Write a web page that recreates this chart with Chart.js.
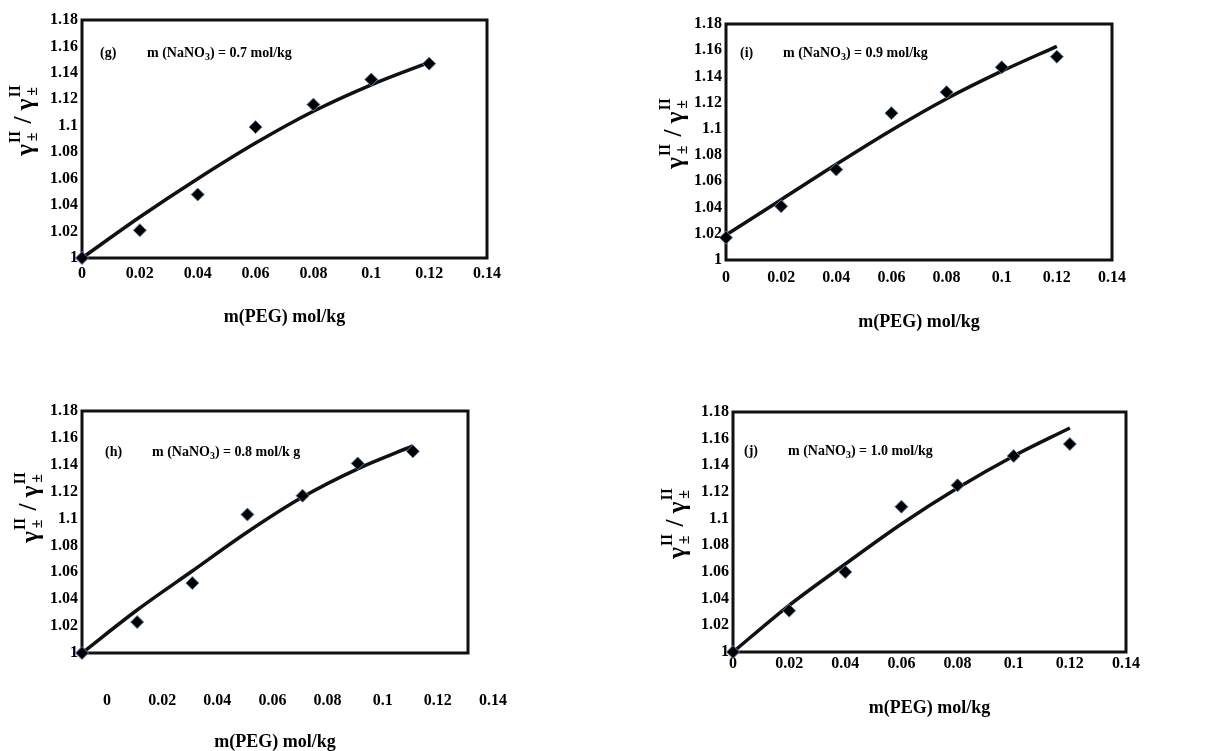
<!DOCTYPE html>
<html>
<head>
<meta charset="utf-8">
<script src="https://cdn.jsdelivr.net/npm/chart.js@4.4.0/dist/chart.umd.min.js"></script>
<style>
  html, body { margin: 0; padding: 0; background: #fff; }
  body { width: 1225px; height: 751px; position: relative; overflow: hidden; }
  canvas { position: absolute; }
</style>
</head>
<body>
<canvas id="cg" width="600" height="340" style="left:0px;top:0px"></canvas>
<canvas id="ci" width="625" height="340" style="left:600px;top:0px"></canvas>
<canvas id="ch" width="620" height="361" style="left:0px;top:390px"></canvas>
<canvas id="cj" width="605" height="361" style="left:620px;top:390px"></canvas>
<script>
// m(PEG) values, mol/kg
var xPEG = [0, 0.02, 0.04, 0.06, 0.08, 0.1, 0.12];
var xTicks = [0, 0.02, 0.04, 0.06, 0.08, 0.1, 0.12, 0.14];
var yTicks = [1, 1.02, 1.04, 1.06, 1.08, 1.1, 1.12, 1.14, 1.16, 1.18];

// experimental points (diamonds) and fitted curve, per NaNO3 molality
var expG = [1.000, 1.021, 1.048, 1.099, 1.116, 1.135, 1.147];
var fitG = [1.000, 1.031, 1.060, 1.087, 1.111, 1.131, 1.148];
var expI = [1.017, 1.041, 1.069, 1.112, 1.128, 1.147, 1.155];
var fitI = [1.019, 1.046, 1.073, 1.099, 1.123, 1.144, 1.163];
var expH = [1.000, 1.023, 1.052, 1.103, 1.117, 1.141, 1.150];
var fitH = [1.000, 1.032, 1.061, 1.090, 1.116, 1.137, 1.154];
var expJ = [1.000, 1.031, 1.060, 1.109, 1.125, 1.147, 1.156];
var fitJ = [1.000, 1.035, 1.066, 1.096, 1.123, 1.147, 1.168];

var panelTag = ['(g)', '(i)', '(h)', '(j)'];
var saltConc = ['0.7 mol/kg', '0.9 mol/kg', '0.8 mol/k g', '1.0 mol/kg'];

var SERIF = "'Liberation Serif', 'Times New Roman', serif";

function fmt(v) { return String(+(+v).toFixed(2)); }

// draws a list of text pieces one after another, pieces may be raised or lowered
function drawPieces(ctx, pieces, x, y) {
  var cx = x;
  pieces.forEach(function (p) {
    ctx.font = 'bold ' + p.size + 'px ' + SERIF;
    ctx.fillText(p.t, cx, y + (p.dy || 0));
    cx += ctx.measureText(p.t).width;
  });
}

function makePanel(id, p) {
  var decor = {
    id: 'decor' + id,
    beforeDatasetsDraw: function (chart) {
      var a = chart.chartArea, ctx = chart.ctx;
      ctx.save();
      ctx.strokeStyle = '#111';
      ctx.lineWidth = 3;
      ctx.strokeRect(a.left, a.top, a.right - a.left, a.bottom - a.top);
      ctx.restore();
    },
    afterDraw: function (chart) {
      var a = chart.chartArea, ctx = chart.ctx;
      ctx.save();
      ctx.fillStyle = '#000';
      ctx.textBaseline = 'middle';
      // panel note
      var ty = a.top + p.note[1];
      drawPieces(ctx, [{ t: p.tag, size: 14 }], a.left + p.note[0], ty);
      drawPieces(ctx, [
        { t: 'm (NaNO', size: 14 },
        { t: '3', size: 10, dy: 4 },
        { t: ') = ' + p.conc, size: 14 }
      ], a.left + p.note[2], ty);
      // y title: gamma^II_± / gamma^II_±
      ctx.translate(a.left + p.ytitle[0], (a.top + a.bottom) / 2 + p.ytitle[1]);
      ctx.rotate(-Math.PI / 2);
      var main = 25, small = 16;
      function w(t, s) { ctx.font = 'bold ' + s + 'px ' + SERIF; return ctx.measureText(t).width; }
      var gw = w('γ', main), iw = w('II', small), sw = w(' / ', main);
      var total = 2 * (gw + iw + 2) + sw;
      var x = -total / 2;
      for (var k = 0; k < 2; k++) {
        ctx.font = 'bold ' + main + 'px ' + SERIF;
        ctx.fillText('γ', x, 2);
        x += gw + 1;
        ctx.font = 'bold ' + small + 'px ' + SERIF;
        ctx.fillText('II', x, -9);
        ctx.fillText('±', x + (iw - w('±', small)) / 2, 8);
        x += iw + 1;
        if (k === 0) {
          ctx.font = 'bold ' + main + 'px ' + SERIF;
          ctx.fillText(' / ', x, 0);
          x += sw;
        }
      }
      ctx.restore();
    }
  };

  new Chart(document.getElementById(id), {
    type: 'scatter',
    data: {
      datasets: [
        {
          type: 'line',
          data: xPEG.map(function (x, i) { return { x: x, y: p.fit[i] }; }),
          borderColor: '#111',
          borderWidth: 3.5,
          pointRadius: 0,
          cubicInterpolationMode: 'monotone',
          fill: false,
          clip: false,
          order: 2
        },
        {
          data: xPEG.map(function (x, i) { return { x: x, y: p.exp[i] }; }),
          pointStyle: 'rectRot',
          pointRadius: 6.5,
          backgroundColor: '#000',
          borderColor: '#5b7fb0',
          borderWidth: 1,
          clip: false,
          order: 1
        }
      ]
    },
    options: {
      responsive: false,
      animation: false,
      layout: { padding: p.pad },
      plugins: { legend: { display: false }, tooltip: { enabled: false } },
      scales: {
        x: {
          type: 'linear',
          min: xTicks[0],
          max: xTicks[xTicks.length - 1],
          afterBuildTicks: function (s) { s.ticks = xTicks.map(function (v) { return { value: v }; }); },
          afterFit: function (s) { s.height = p.xh; },
          grid: { display: false, drawTicks: false },
          border: { display: false },
          ticks: {
            padding: p.xpad,
            labelOffset: p.xoff || 0,
            autoSkip: false,
            maxRotation: 0,
            color: '#000',
            font: { family: SERIF, weight: 'bold', size: 16 },
            callback: fmt
          },
          title: {
            display: true,
            text: 'm(PEG) mol/kg',
            color: '#000',
            font: { family: SERIF, weight: 'bold', size: 18, lineHeight: 1 },
            padding: { top: 0, bottom: p.tpad }
          }
        },
        y: {
          min: yTicks[0],
          max: yTicks[yTicks.length - 1],
          afterBuildTicks: function (s) { s.ticks = yTicks.map(function (v) { return { value: v }; }); },
          afterFit: function (s) { s.width = 82; },
          grid: { display: false, drawTicks: false },
          border: { display: false },
          ticks: {
            padding: 4,
            autoSkip: false,
            color: '#000',
            font: { family: SERIF, weight: 'bold', size: 16 },
            callback: fmt
          }
        }
      }
    },
    plugins: [decor]
  });
}

makePanel('cg', {
  exp: expG, fit: fitG, tag: panelTag[0], conc: saltConc[0],
  pad: { left: 0, top: 20, right: 113, bottom: 0 },
  xh: 82, xpad: 6, tpad: 14,
  note: [18, 33, 65], ytitle: [-57, -19]
});
makePanel('ci', {
  exp: expI, fit: fitI, tag: panelTag[1], conc: saltConc[1],
  pad: { left: 44, top: 24, right: 113, bottom: 0 },
  xh: 80, xpad: 8, tpad: 9,
  note: [14, 29, 57], ytitle: [-51, -9]
});
makePanel('ch', {
  exp: expH, fit: fitH, tag: panelTag[2], conc: saltConc[2],
  pad: { left: 0, top: 21, right: 152, bottom: 0 },
  xh: 98, xpad: 38, tpad: 0, xoff: 25,
  note: [23, 41, 70], ytitle: [-52, -25]
});
makePanel('cj', {
  exp: expJ, fit: fitJ, tag: panelTag[3], conc: saltConc[3],
  pad: { left: 31, top: 22, right: 99, bottom: 0 },
  xh: 99, xpad: 2, tpad: 34,
  note: [11, 39, 55], ytitle: [-56, -9]
});
</script>
</body>
</html>
